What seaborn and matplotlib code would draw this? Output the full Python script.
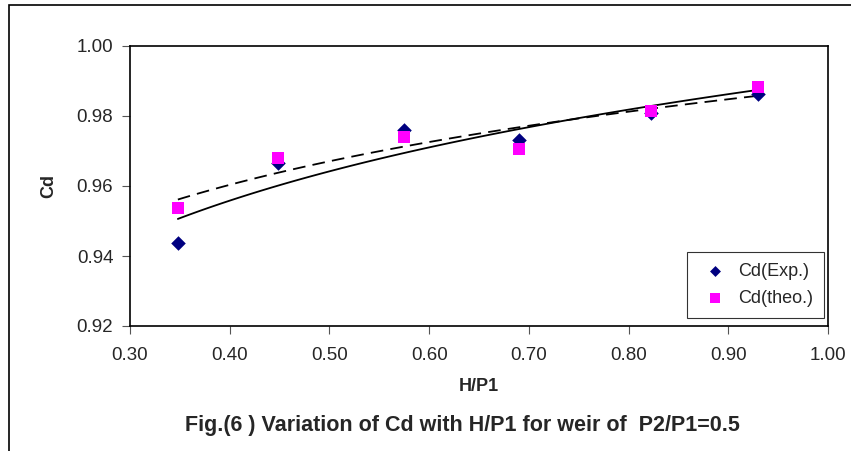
import numpy as np
import pandas as pd
import matplotlib.pyplot as plt
import matplotlib.patches as mpatches
import seaborn as sns

# dados
h_p1 = [0.348, 0.448, 0.575, 0.690, 0.8225, 0.930]
cd_exp = [0.9438, 0.9665, 0.9760, 0.9731, 0.9810, 0.9863]
cd_theo = [0.9536, 0.9681, 0.9739, 0.9705, 0.9815, 0.9882]

x_ticks = [0.30, 0.40, 0.50, 0.60, 0.70, 0.80, 0.90, 1.00]
y_ticks = [0.92, 0.94, 0.96, 0.98, 1.00]

df = pd.DataFrame({"H/P1": h_p1, "Cd(Exp.)": cd_exp, "Cd(theo.)": cd_theo})

sns.set_theme(style="white")
plt.rcParams["font.family"] = ["Liberation Sans", "DejaVu Sans"]

fig = plt.figure(figsize=(8.51, 4.51), dpi=100)
ax = fig.add_axes([130 / 851, 1 - 326 / 451, 698 / 851, 280 / 451])

# linhas de tendência logarítmicas (como no Excel)
sns.regplot(data=df, x="H/P1", y="Cd(Exp.)", logx=True, ci=None, scatter=False,
            line_kws={"color": "black", "lw": 1.3, "ls": "-"}, ax=ax)
sns.regplot(data=df, x="H/P1", y="Cd(theo.)", logx=True, ci=None, scatter=False,
            line_kws={"color": "black", "lw": 1.3, "ls": (0, (7, 4))}, ax=ax)

sns.scatterplot(data=df, x="H/P1", y="Cd(Exp.)", marker="D", s=55, color="#000080",
                edgecolor="#000080", linewidth=0, ax=ax, label="Cd(Exp.)", zorder=3)
sns.scatterplot(data=df, x="H/P1", y="Cd(theo.)", marker="s", s=85, color="#FF00FF",
                edgecolor="#FF00FF", linewidth=0, ax=ax, label="Cd(theo.)", zorder=3)

ax.set_xlim(0.30, 1.00)
ax.set_ylim(0.92, 1.00)
ax.set_xticks(x_ticks)
ax.set_yticks(y_ticks)
ax.set_xticklabels([f"{v:.2f}" for v in x_ticks])
ax.set_yticklabels([f"{v:.2f}" for v in y_ticks])
ax.tick_params(axis="both", which="both", direction="out", length=6, width=0.8,
               color="#555555", labelsize=13.5, left=True, bottom=True)
ax.tick_params(axis="y", pad=6)
ax.tick_params(axis="x", pad=9)

for s in ax.spines.values():
    s.set_color("black")
    s.set_linewidth(1.2)
    s.set_visible(True)

ax.set_xlabel("H/P1", fontsize=13, fontweight="bold", labelpad=10)
ax.set_ylabel("Cd", fontsize=13, fontweight="bold", labelpad=14)

leg = ax.legend(loc="lower right", bbox_to_anchor=(0.994, 0.029), fontsize=13,
                frameon=True, fancybox=False, edgecolor="black", markerscale=0.75,
                handletextpad=0.3, borderpad=0.6, labelspacing=0.55, handlelength=1.9,
                borderaxespad=0)
leg.get_frame().set_linewidth(0.8)

fig.text(462 / 851, 1 - 426 / 451,
         "Fig.(6 ) Variation of Cd with H/P1 for weir of  P2/P1=0.5",
         ha="center", va="center", fontsize=15.5, fontweight="bold")

# moldura externa (só esquerda e topo visíveis)
frame = mpatches.Rectangle((9 / 851, -0.2), 1.2, 0.2 + 1 - 5 / 451,
                           transform=fig.transFigure, fill=False,
                           edgecolor="black", lw=1.2)
fig.add_artist(frame)

fig.savefig("out.png", dpi=100, facecolor="white")
